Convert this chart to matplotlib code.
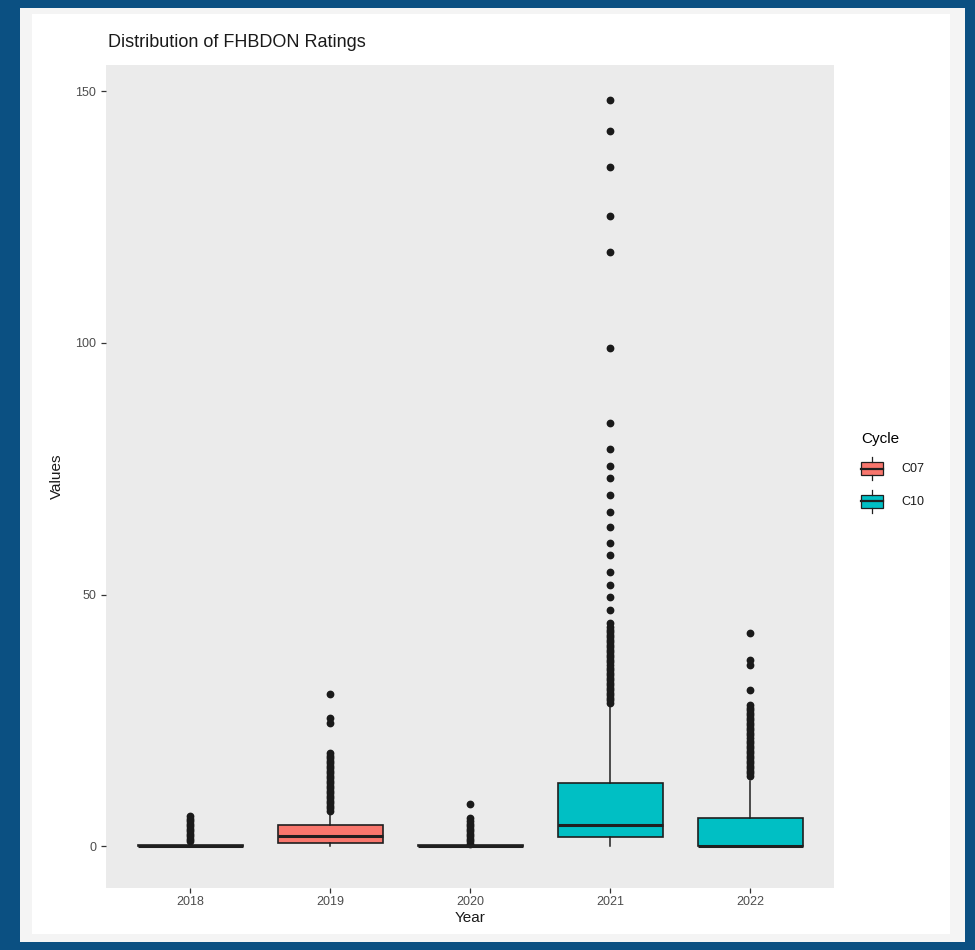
import matplotlib
matplotlib.use("Agg")
import matplotlib.pyplot as plt
from matplotlib.patches import Rectangle
from matplotlib.lines import Line2D
from matplotlib.legend_handler import HandlerBase

plt.rcParams['font.family'] = ['Liberation Sans', 'DejaVu Sans']

# --- box summary per year ---
years = ['2018', '2019', '2020', '2021', '2022']
cycles = ['C07', 'C07', 'C10', 'C10', 'C10']
q1 = [0.0, 0.6, 0.0, 1.8, 0.0]
med = [0.0, 2.0, 0.0, 4.2, 0.0]
q3 = [0.3, 4.2, 0.3, 12.5, 5.6]
whis_lo = [0.0, 0.0, 0.0, 0.0, 0.0]
whis_hi = [0.3, 6.2, 0.3, 28.0, 13.0]

out_2018 = [1.0, 1.5, 2.0, 2.5, 3.0, 3.5, 4.0, 4.5, 5.0, 5.5, 6.0]
out_2019 = [7.0, 7.5, 8.0, 8.5, 9.0, 9.5, 10.0, 10.5, 11.0, 11.5, 12.0, 12.5,
            13.0, 13.5, 14.0, 14.5, 15.0, 15.5, 16.0, 16.5, 17.0, 17.5, 18.0,
            18.5, 24.5, 25.4, 30.2]
out_2020 = [0.5, 1.0, 1.5, 2.0, 2.5, 3.0, 3.5, 4.0, 4.5, 5.0, 5.6, 8.3]
out_2021 = [28.5, 29.0, 29.5, 30.0, 30.5, 31.0, 31.5, 32.0, 32.5, 33.0, 33.5,
            34.0, 34.5, 35.0, 35.5, 36.0, 36.5, 37.0, 37.5, 38.0, 38.5, 39.0,
            39.5, 40.0, 40.5, 41.0, 41.5, 42.0, 42.5, 43.0, 43.5, 44.3, 46.9,
            49.5, 51.9, 54.5, 57.9, 60.2, 63.4, 66.4, 69.8, 73.1, 75.5, 78.9,
            84.1, 99.0, 118.1, 125.2, 135.0, 142.0, 148.3]
out_2022 = [14.0, 14.5, 15.0, 15.5, 16.0, 16.5, 17.0, 17.5, 18.0, 18.5, 19.0,
            19.5, 20.0, 20.5, 21.0, 21.5, 22.0, 22.5, 23.0, 23.5, 24.0, 24.5,
            25.0, 25.5, 26.0, 26.5, 27.0, 27.5, 28.0, 31.0, 36.0, 37.0, 42.3]
outliers = [out_2018, out_2019, out_2020, out_2021, out_2022]

cycle_colors = {'C07': '#F8766D', 'C10': '#00BFC4'}

W, H = 975, 950
fig = plt.figure(figsize=(W / 100, H / 100), dpi=100, facecolor='#0b5082')

# card behind the plot
fig.patches.append(Rectangle((20 / W, 1 - 942 / H), 945 / W, 934 / H,
                             transform=fig.transFigure, facecolor='#f4f4f4',
                             edgecolor='none', zorder=-2))
fig.patches.append(Rectangle((32 / W, 1 - 934 / H), 918 / W, 920 / H,
                             transform=fig.transFigure, facecolor='white',
                             edgecolor='none', zorder=-1))

ax = fig.add_axes([106 / W, 1 - 888 / H, 728 / W, 823 / H])
ax.set_facecolor('#ebebeb')

stats = []
for i in range(len(years)):
    stats.append(dict(med=med[i], q1=q1[i], q3=q3[i], whislo=whis_lo[i],
                      whishi=whis_hi[i], fliers=outliers[i], label=years[i]))

bp = ax.bxp(stats, positions=range(len(years)), widths=0.75, patch_artist=True,
            showcaps=False,
            boxprops=dict(edgecolor='#1f1f1f', linewidth=1.2),
            whiskerprops=dict(color='#1f1f1f', linewidth=1.1),
            medianprops=dict(color='#1f1f1f', linewidth=2.2),
            flierprops=dict(marker='o', markerfacecolor='#1a1a1a',
                            markeredgecolor='#1a1a1a', markersize=4.6))
for patch, cyc in zip(bp['boxes'], cycles):
    patch.set_facecolor(cycle_colors[cyc])

for side in ax.spines.values():
    side.set_visible(False)
ax.set_xlim(-0.6, 4.6)
ax.set_ylim(-8.3, 155.2)
ax.set_yticks([0, 50, 100, 150])
ax.set_xticks(range(len(years)))
ax.set_xticklabels(years)
ax.tick_params(axis='both', colors='#333333', labelcolor='#4d4d4d',
               labelsize=9, length=3.5, width=0.9)
ax.tick_params(axis='x', pad=2.5)

ax.set_title("Distribution of FHBDON Ratings", loc='left', fontsize=13,
             color='#1a1a1a', pad=13, x=0.003)
ax.set_xlabel("Year", fontsize=11, color='#1a1a1a', labelpad=2)
ax.set_ylabel("Values", fontsize=11, color='#1a1a1a', labelpad=8)


class BoxKey(HandlerBase):
    # small boxplot glyph for the legend keys
    def create_artists(self, legend, orig_handle, xdescent, ydescent,
                       width, height, fontsize, trans):
        cx = width / 2 - xdescent
        rect = Rectangle((-xdescent, -ydescent + height * 0.18), width,
                         height * 0.64, facecolor=orig_handle.get_facecolor(),
                         edgecolor='#1f1f1f', linewidth=0.9, transform=trans)
        mid = Line2D([-xdescent, width - xdescent],
                     [height / 2 - ydescent] * 2, color='#1f1f1f',
                     linewidth=1.6, transform=trans)
        top = Line2D([cx, cx], [height * 0.82 - ydescent, height * 1.05 - ydescent],
                     color='#1f1f1f', linewidth=0.9, transform=trans)
        bot = Line2D([cx, cx], [-ydescent - height * 0.05, height * 0.18 - ydescent],
                     color='#1f1f1f', linewidth=0.9, transform=trans)
        return [rect, mid, top, bot]


handles = [Rectangle((0, 0), 1, 1, facecolor=cycle_colors[c]) for c in ['C07', 'C10']]
leg = fig.legend(handles, ['C07', 'C10'], title='Cycle', loc='upper left',
                 bbox_to_anchor=(850 / W, 1 - 421 / H), frameon=False,
                 handler_map={Rectangle: BoxKey()}, fontsize=9,
                 title_fontsize=11, handlelength=1.75, handleheight=2.2,
                 labelspacing=0.95, handletextpad=1.5)
leg._legend_box.align = 'left'
for t in leg.get_texts():
    t.set_color('#1a1a1a')

fig.savefig('out.png', dpi=100, facecolor=fig.get_facecolor())
